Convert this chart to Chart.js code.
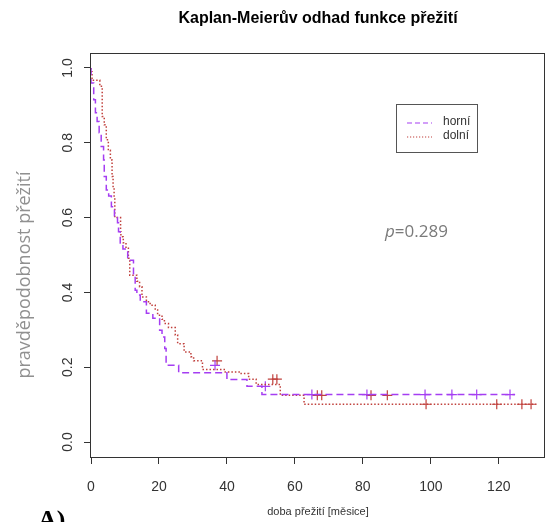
<!DOCTYPE html>
<html lang="cs">
<head>
<meta charset="UTF-8" />
<title>Kaplan-Meierův odhad</title>
<script src="https://cdn.jsdelivr.net/npm/chart.js"></script>
<style>
  body { margin: 0; background: #fff; }
  canvas { display: block; }
</style>
</head>
<body>
<canvas id="myChart" width="547" height="522"></canvas>
<script>
// horní: casy poklesu [mesice] a odhad preziti po poklesu
var horniCas = [0, 0.8, 1.3, 1.8, 2.4, 3.0, 3.7, 3.9, 4.5, 5.2, 6.0, 6.9, 7.8, 8.1, 8.6, 9.4, 10.8,
  12.5, 13.0, 13.5, 14.5, 16.3, 18.2, 20.2, 20.9, 21.7, 22.1, 25.8, 40.0, 45.9, 50.3, 62.4, 124.8];
var horniPrezit = [1.0, 0.96, 0.915, 0.88, 0.857, 0.827, 0.79, 0.754, 0.71, 0.674, 0.658, 0.629, 0.6, 0.586, 0.562, 0.532, 0.516,
  0.486, 0.45, 0.406, 0.393, 0.375, 0.344, 0.331, 0.299, 0.281, 0.25, 0.205, 0.185, 0.167, 0.149, 0.127, 0.127];

// dolní
var dolniCas = [0, 0.3, 2.6, 3.3, 3.9, 4.5, 5.1, 5.7, 6.2, 6.5, 6.8, 7.0, 8.7, 8.8, 9.5, 10.3, 11.0, 11.4,
  13.5, 14.3, 15.0, 16.3, 17.4, 18.9, 19.6, 20.9, 21.6, 22.8, 24.8, 25.5, 27.4, 29.4, 30.2, 32.8,
  39.5, 43.9, 46.4, 48.6, 55.7, 62.7, 91.8, 131.1];
var dolniPrezit = [1.0, 0.99, 0.967, 0.951, 0.87, 0.848, 0.808, 0.78, 0.754, 0.71, 0.679, 0.652, 0.6, 0.562, 0.549, 0.533, 0.518, 0.491,
  0.446, 0.43, 0.415, 0.388, 0.375, 0.366, 0.353, 0.339, 0.328, 0.317, 0.306, 0.286, 0.263, 0.241, 0.228, 0.217,
  0.194, 0.187, 0.183, 0.168, 0.154, 0.125, 0.101, 0.101];

// cenzorovana pozorovani (+)
var horniCenzCas = [36.5, 51.3, 65.0, 81.2, 98.3, 106.2, 113.5, 123.3];
var horniCenzPrezit = [0.205, 0.149, 0.127, 0.127, 0.127, 0.127, 0.127, 0.127];
var dolniCenzCas = [37.1, 53.5, 54.7, 66.6, 67.9, 82.4, 87.2, 98.6, 119.4, 126.8, 129.5];
var dolniCenzPrezit = [0.217, 0.168, 0.168, 0.125, 0.125, 0.125, 0.125, 0.101, 0.101, 0.101, 0.101];

var xTicks = [0, 20, 40, 60, 80, 100, 120];
var yTicks = [0, 0.2, 0.4, 0.6, 0.8, 1.0];
var yPopisky = ["0.0", "0.2", "0.4", "0.6", "0.8", "1.0"];

var fialova = "#a53ef2";
var cervena = "#c0403c";

function body(xs, ys) {
  return xs.map(function (x, i) { return { x: x, y: ys[i] }; });
}

// ramecek, popisky osy y, titulky, legenda
var rGraf = {
  id: "rGraf",
  afterDraw: function (chart) {
    var c = chart.ctx;
    var a = chart.chartArea;
    var ys = chart.scales.y;
    c.save();
    c.strokeStyle = "#333";
    c.lineWidth = 1;
    c.strokeRect(Math.round(a.left) - 0.5, Math.round(a.top) + 0.5, Math.round(a.right - a.left), Math.round(a.bottom - a.top));

    c.fillStyle = "#333";
    c.font = "14px 'Liberation Sans', Arial, sans-serif";
    c.textAlign = "center";
    c.textBaseline = "middle";
    ys.ticks.forEach(function (t, i) {
      c.save();
      c.translate(68, ys.getPixelForValue(t.value));
      c.rotate(-Math.PI / 2);
      c.fillText(yPopisky[i], 0, 0);
      c.restore();
    });

    c.font = "bold 16px 'Liberation Sans', Arial, sans-serif";
    c.fillStyle = "#000";
    c.fillText("Kaplan-Meierův odhad funkce přežití", (a.left + a.right) / 2, 19);

    c.font = "11px 'Liberation Sans', Arial, sans-serif";
    c.fillStyle = "#333";
    c.fillText("doba přežití [měsice]", (a.left + a.right) / 2, 512);

    c.save();
    c.translate(25, 275);
    c.rotate(-Math.PI / 2);
    c.font = "18px 'Open Sans', sans-serif";
    c.fillStyle = "#909090";
    c.fillText("pravděpodobnost přežití", 0, 0);
    c.restore();

    c.textAlign = "left";
    c.textBaseline = "alphabetic";
    c.fillStyle = "#7a7a7a";
    c.font = "italic 17px 'Open Sans', sans-serif";
    c.fillText("p", 385, 237);
    var w = c.measureText("p").width;
    c.font = "17px 'Open Sans', sans-serif";
    c.fillText("=0.289", 385 + w, 237);

    // legenda
    c.strokeStyle = "#555";
    c.strokeRect(396.5, 104.5, 81, 48);
    c.lineWidth = 1.2;
    c.strokeStyle = fialova;
    c.setLineDash([5, 3]);
    c.beginPath(); c.moveTo(407, 123); c.lineTo(432, 123); c.stroke();
    c.strokeStyle = cervena;
    c.setLineDash([1.2, 1.8]);
    c.beginPath(); c.moveTo(407, 137); c.lineTo(432, 137); c.stroke();
    c.setLineDash([]);
    c.fillStyle = "#333";
    c.font = "12px 'Liberation Sans', Arial, sans-serif";
    c.textBaseline = "middle";
    c.fillText("horní", 443, 122);
    c.fillText("dolní", 443, 136);

    c.fillStyle = "#000";
    c.font = "bold 26px 'Liberation Serif', 'Times New Roman', serif";
    c.textBaseline = "alphabetic";
    c.fillText("A)", 38, 528);
    c.restore();
  }
};

var ctx = document.getElementById("myChart").getContext("2d");

new Chart(ctx, {
  type: "line",
  data: {
    datasets: [
      {
        label: "horní",
        data: body(horniCas, horniPrezit),
        stepped: "after",
        borderColor: fialova,
        borderWidth: 1.5,
        borderDash: [7, 4],
        pointRadius: 0,
        fill: false,
      },
      {
        label: "dolní",
        data: body(dolniCas, dolniPrezit),
        stepped: "after",
        borderColor: cervena,
        borderWidth: 1.5,
        borderDash: [1.5, 2],
        pointRadius: 0,
        fill: false,
      },
      {
        type: "scatter",
        label: "horní cenz.",
        data: body(horniCenzCas, horniCenzPrezit),
        pointStyle: "cross",
        pointRadius: 5,
        borderColor: fialova,
        backgroundColor: fialova,
        pointBorderWidth: 1.2,
      },
      {
        type: "scatter",
        label: "dolní cenz.",
        data: body(dolniCenzCas, dolniCenzPrezit),
        pointStyle: "cross",
        pointRadius: 5,
        borderColor: cervena,
        backgroundColor: cervena,
        pointBorderWidth: 1.2,
      },
    ],
  },
  options: {
    responsive: false,
    animation: false,
    devicePixelRatio: 1,
    layout: { autoPadding: false, padding: { top: 53, right: 2, left: 0, bottom: 0 } },
    plugins: {
      legend: { display: false },
      tooltip: { enabled: false },
    },
    scales: {
      x: {
        type: "linear",
        min: 0,
        max: 133.6,
        afterBuildTicks: function (s) { s.ticks = xTicks.map(function (v) { return { value: v }; }); },
        afterFit: function (s) { s.height = 65; s.paddingLeft = 0; s.paddingRight = 0; },
        grid: { drawOnChartArea: false, drawTicks: true, tickLength: 7, tickColor: "#333" },
        border: { display: false },
        ticks: {
          color: "#333",
          font: { family: "'Liberation Sans', Arial, sans-serif", size: 14 },
          padding: 15,
          maxRotation: 0,
          autoSkip: false,
        },
      },
      y: {
        type: "linear",
        min: -0.04,
        max: 1.04,
        afterBuildTicks: function (s) { s.ticks = yTicks.map(function (v) { return { value: v }; }); },
        afterFit: function (s) { s.width = 91; },
        grid: { drawOnChartArea: false, drawTicks: true, tickLength: 7, tickColor: "#333" },
        border: { display: false },
        ticks: { display: false },
      },
    },
  },
  plugins: [rGraf],
});
</script>
</body>
</html>
